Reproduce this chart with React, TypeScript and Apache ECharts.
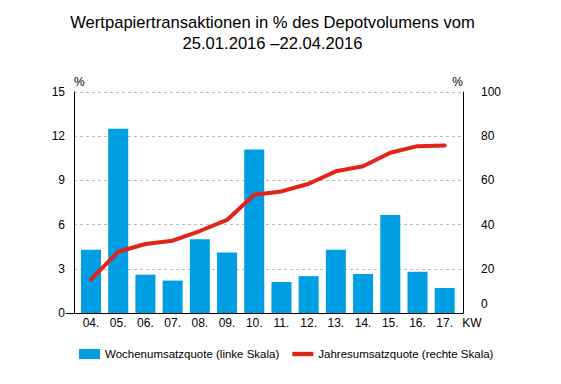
import React, { useEffect, useRef } from "react";
import * as echarts from "echarts";

const weeks = ["04.", "05.", "06.", "07.", "08.", "09.", "10.", "11.", "12.", "13.", "14.", "15.", "16.", "17."];
const wochenQuote = [4.3, 12.5, 2.6, 2.2, 5.0, 4.1, 11.1, 2.1, 2.5, 4.3, 2.65, 6.65, 2.8, 1.7];
const jahresQuote = [15.2, 27.7, 31.2, 32.7, 37.1, 42.1, 53.5, 55.0, 58.5, 64.1, 66.4, 72.5, 75.5, 75.8];
const titleLines = ["Wertpapiertransaktionen in % des Depotvolumens vom", "25.01.2016 \u201322.04.2016"];
const seriesNames = ["Wochenumsatzquote (linke Skala)", "Jahresumsatzquote (rechte Skala)"];

const FONT = "'Liberation Sans', Arial, Helvetica, sans-serif";
const BLUE = "#009FE3";
const RED = "#E2231A";

export default function App() {
  const ref = useRef<HTMLDivElement>(null);
  useEffect(() => {
    document.body.style.margin = "0";
    if (!ref.current) return;
    const chart = echarts.init(ref.current, null, { renderer: "svg" });
    const top = 92;
    const height = 221;
    chart.setOption({
      animation: false,
      textStyle: { fontFamily: FONT },
      graphic: [
        {
          type: "text",
          x: 272.5,
          y: 12,
          style: {
            text: titleLines.join("\n"),
            align: "center",
            verticalAlign: "top",
            fontFamily: FONT,
            fontSize: 16.6,
            lineHeight: 21,
            fill: "#000",
          },
        },
      ],
      legend: {
        left: 74,
        top: 343,
        itemWidth: 21,
        itemHeight: 10,
        itemGap: 13,
        textStyle: { fontFamily: FONT, fontSize: 11.5, color: "#000" },
        data: [
          { name: seriesNames[0], icon: "rect" },
          { name: seriesNames[1], icon: "path://M0,0 L19,0 L19,4 L0,4 Z" },
        ],
      },
      grid: [
        { left: 74, width: 389, top, height },
        { left: 66, width: 397, top, height },
        { left: 77.4, width: 380.9, top, height },
      ],
      xAxis: [
        { type: "value", gridIndex: 0, show: false, min: 0, max: 1 },
        {
          type: "value",
          gridIndex: 1,
          min: 0,
          max: 1,
          axisLine: { show: true, lineStyle: { color: "#000", width: 1 } },
          axisTick: { show: false },
          axisLabel: { show: false },
          splitLine: { show: false },
        },
        {
          type: "category",
          gridIndex: 2,
          data: weeks,
          axisLine: { show: false },
          axisTick: { show: false },
          axisLabel: { color: "#000", fontSize: 12, fontFamily: FONT, margin: 4 },
          name: "KW",
          nameLocation: "end",
          nameGap: 4,
          nameTextStyle: {
            color: "#000",
            fontSize: 12,
            fontFamily: FONT,
            verticalAlign: "top",
            padding: [4, 0, 0, 0],
          },
        },
      ],
      yAxis: [
        {
          type: "value",
          gridIndex: 0,
          position: "left",
          min: 0,
          max: 15,
          interval: 3,
          axisLine: { show: true, lineStyle: { color: "#000", width: 1 } },
          axisTick: { show: false },
          axisLabel: { color: "#000", fontSize: 12, fontFamily: FONT, margin: 9 },
          splitLine: { show: true, lineStyle: { color: "#bbbbbb", type: [3, 3], width: 1 } },
          name: "%",
          nameLocation: "end",
          nameGap: 4,
          nameTextStyle: { color: "#000", fontSize: 12, fontFamily: FONT, align: "left" },
        },
        {
          type: "value",
          gridIndex: 0,
          position: "right",
          min: 0,
          max: 100,
          interval: 20,
          axisLine: { show: true, lineStyle: { color: "#000", width: 1 } },
          axisTick: { show: false },
          axisLabel: {
            color: "#000",
            fontSize: 12,
            fontFamily: FONT,
            margin: 18,
            formatter: (v: number) => (v === 0 ? "{up|0}" : String(v)),
            rich: { up: { fontSize: 12, fontFamily: FONT, color: "#000", padding: [0, 0, 18, 0] } },
          },
          splitLine: { show: false },
          name: "%",
          nameLocation: "end",
          nameGap: 4,
          nameTextStyle: { color: "#000", fontSize: 12, fontFamily: FONT, align: "right" },
        },
        { type: "value", gridIndex: 1, show: false, min: 0, max: 1 },
        { type: "value", gridIndex: 2, show: false, min: 0, max: 15 },
        { type: "value", gridIndex: 2, show: false, min: 0, max: 100 },
      ],
      series: [
        {
          name: seriesNames[0],
          type: "bar",
          xAxisIndex: 2,
          yAxisIndex: 3,
          data: wochenQuote,
          barWidth: 20,
          itemStyle: { color: BLUE },
        },
        {
          name: seriesNames[1],
          type: "line",
          xAxisIndex: 2,
          yAxisIndex: 4,
          data: jahresQuote,
          symbol: "none",
          lineStyle: { color: RED, width: 4, join: "round", cap: "round" },
          itemStyle: { color: RED },
        },
      ],
    });
    return () => chart.dispose();
  }, []);
  return <div ref={ref} style={{ width: 561, height: 384 }} />;
}
